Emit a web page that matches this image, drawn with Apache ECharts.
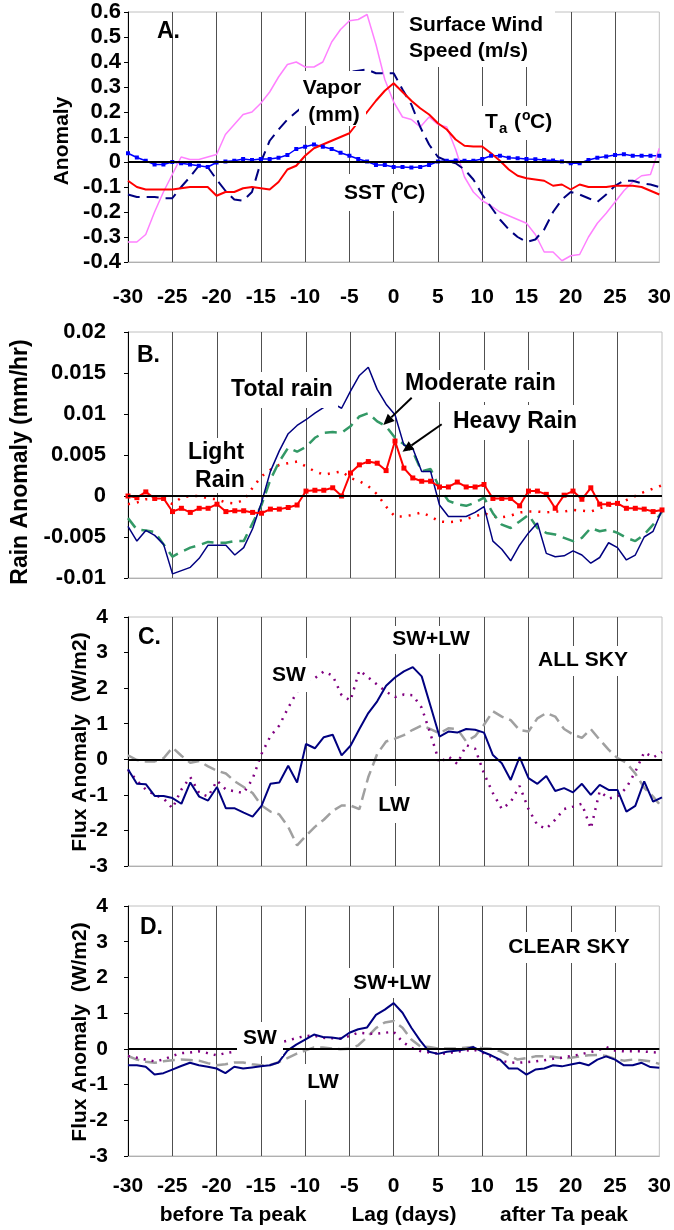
<!DOCTYPE html>
<html>
<head>
<meta charset="utf-8">
<script src="https://cdn.jsdelivr.net/npm/echarts@6/dist/echarts.min.js"></script>
<style>
  html, body { margin: 0; padding: 0; background: #fff; }
  #chart { width: 674px; height: 1230px; }
</style>
</head>
<body>
<div id="chart"></div>
<script>
// lag in days relative to the Ta peak
var lag = [-30,-29,-28,-27,-26,-25,-24,-23,-22,-21,-20,-19,-18,-17,-16,-15,-14,-13,-12,-11,
  -10,-9,-8,-7,-6,-5,-4,-3,-2,-1,0,1,2,3,4,5,6,7,8,9,10,11,12,13,14,15,16,17,18,19,20,
  21,22,23,24,25,26,27,28,29,30];

// A. surface anomalies
var windSpeed = [-0.32,-0.32,-0.29,-0.20,-0.12,-0.05,0.02,0.01,0.01,0.02,
  0.03,0.11,0.15,0.19,0.20,0.235,0.28,0.34,0.39,0.40,
  0.38,0.38,0.40,0.48,0.53,0.565,0.57,0.59,0.47,0.33,
  0.24,0.18,0.17,0.14,0.18,0.15,0.14,0.05,-0.06,-0.12,
  -0.155,-0.175,-0.20,-0.215,-0.23,-0.245,-0.29,-0.36,-0.36,-0.395,
  -0.375,-0.37,-0.30,-0.245,-0.205,-0.16,-0.115,-0.08,-0.055,-0.05,0.055];
var vapor = [-0.13,-0.14,-0.14,-0.14,-0.145,-0.145,-0.10,-0.06,-0.015,-0.02,
  -0.07,-0.115,-0.15,-0.155,-0.12,0.0,0.085,0.13,0.17,0.20,
  0.23,0.265,0.30,0.32,0.34,0.36,0.365,0.37,0.355,0.355,
  0.355,0.29,0.23,0.14,0.07,0.02,0.005,-0.005,-0.03,-0.07,
  -0.13,-0.18,-0.23,-0.27,-0.30,-0.32,-0.31,-0.27,-0.20,-0.15,
  -0.12,-0.13,-0.145,-0.16,-0.13,-0.095,-0.075,-0.075,-0.085,-0.09,-0.10];
var airTemp = [-0.075,-0.10,-0.11,-0.11,-0.11,-0.11,-0.105,-0.10,-0.10,-0.10,
  -0.135,-0.12,-0.12,-0.105,-0.10,-0.105,-0.11,-0.08,-0.03,-0.015,
  0.025,0.055,0.07,0.085,0.10,0.115,0.16,0.20,0.245,0.285,
  0.315,0.28,0.245,0.215,0.19,0.155,0.13,0.09,0.065,0.062,
  0.062,0.035,0.005,-0.03,-0.055,-0.065,-0.07,-0.075,-0.095,-0.09,
  -0.11,-0.09,-0.10,-0.10,-0.10,-0.095,-0.095,-0.095,-0.10,-0.115,-0.13];
var sst = [0.035,0.018,0.005,-0.01,-0.01,0,-0.005,-0.01,-0.015,-0.02,
  -0.002,0.002,0.005,0.012,0.008,0.012,0.012,0.017,0.028,0.052,
  0.061,0.07,0.061,0.052,0.037,0.025,0.012,0.002,-0.012,-0.012,
  -0.02,-0.02,-0.022,-0.02,-0.012,0.002,0.005,0.006,0.005,0.005,
  0.012,0.025,0.025,0.017,0.015,0.012,0.011,0.008,0.006,0.002,
  -0.005,-0.005,0.008,0.017,0.022,0.028,0.031,0.025,0.025,0.025,0.025];

// B. rain anomalies (mm/hr)
var totalRain = [-0.0037,-0.0055,-0.0042,-0.0048,-0.0059,-0.0095,-0.0091,-0.0087,-0.0076,-0.006,
  -0.006,-0.006,-0.0072,-0.0063,-0.004,-0.0008,0.003,0.0055,0.0076,0.0086,
  0.0093,0.0101,0.0108,0.0113,0.0107,0.0128,0.0147,0.0157,0.013,0.0112,
  0.0099,0.0062,0.0058,0.003,0.003,-0.0011,-0.0025,-0.0025,-0.0025,-0.002,
  -0.0013,-0.0055,-0.0065,-0.0079,-0.006,-0.0045,-0.0033,-0.007,-0.0074,-0.0073,
  -0.0067,-0.0072,-0.0082,-0.0075,-0.0057,-0.0063,-0.0078,-0.0072,-0.005,-0.0043,-0.0017];
var moderateRain = [-0.0027,-0.0041,-0.0042,-0.0044,-0.0059,-0.0074,-0.0068,-0.0063,-0.006,-0.0056,
  -0.0057,-0.0057,-0.0055,-0.0055,-0.0033,-0.0011,0.002,0.0042,0.0059,0.0054,
  0.006,0.0071,0.0077,0.0078,0.0077,0.0085,0.0097,0.0101,0.0091,0.0085,
  0.0071,0.0063,0.0054,0.003,0.0033,0.001,-0.0006,-0.001,-0.0012,-0.0008,
  -0.0002,-0.0021,-0.0035,-0.0039,-0.0031,-0.0023,-0.0039,-0.0045,-0.0047,-0.0051,
  -0.0055,-0.0051,-0.0039,-0.0043,-0.0041,-0.0045,-0.0051,-0.0055,-0.0047,-0.0035,-0.0019];
var heavyRain = [0.0,-0.0002,0.0005,-0.0003,-0.0003,-0.0019,-0.0015,-0.002,-0.0015,-0.0015,
  -0.001,-0.0019,-0.0018,-0.0018,-0.002,-0.0021,-0.0016,-0.0016,-0.0014,-0.0011,
  0.0006,0.0007,0.0007,0.001,0.0,0.0028,0.0038,0.0042,0.004,0.0031,
  0.0067,0.0034,0.0022,0.0018,0.0018,0.0011,0.0011,0.0017,0.0011,0.0011,
  0.0014,-0.0003,-0.0003,-0.0003,-0.0012,0.0006,0.0006,0.0002,-0.0015,0.0001,
  0.0006,-0.0004,0.001,-0.001,-0.001,-0.0009,-0.0015,-0.0015,-0.0016,-0.0019,-0.0017];
var lightRain = [-0.001,-0.0008,-0.0004,-0.0004,-0.0003,-0.001,-0.0002,0.0,0.0,-0.0003,
  -0.0004,-0.0008,-0.0009,-0.0005,0.001,0.0024,0.0032,0.0038,0.004,0.0042,
  0.0036,0.003,0.0026,0.0028,0.003,0.0022,0.0018,0.0012,0.0002,-0.0013,
  -0.0025,-0.0025,-0.0023,-0.002,-0.0025,-0.0031,-0.0032,-0.0031,-0.0028,-0.0025,
  -0.0021,-0.0025,-0.0026,-0.0024,-0.002,-0.0019,-0.0019,-0.002,-0.0019,-0.0019,
  -0.0017,-0.0018,-0.0019,-0.0015,-0.0012,-0.0011,-0.0005,0.0,0.0005,0.0009,0.0013];

// C. all sky flux anomalies (W/m2)
var allSkyNet = [-0.28,-0.69,-0.70,-1.03,-1.03,-1.09,-1.25,-0.65,-1.05,-1.16,
  -0.78,-1.38,-1.38,-1.5,-1.61,-1.31,-0.69,-0.65,-0.18,-0.65,
  0.43,0.31,0.62,0.69,0.11,0.38,0.85,1.30,1.63,2.07,
  2.3,2.47,2.59,2.33,1.49,0.64,0.78,0.75,0.85,0.83,
  0.75,0.12,-0.11,-0.58,0.06,-0.53,-0.69,-0.47,-0.89,-0.81,
  -0.93,-0.69,-1.0,-0.72,-0.86,-0.86,-1.47,-1.31,-0.62,-1.19,-1.07];
var allSkySW = [-0.3,-0.6,-0.85,-1.0,-1.1,-1.38,-0.85,-0.5,-0.95,-1.05,
  -0.6,-0.85,-0.9,-0.95,-0.55,0.15,0.65,0.95,1.45,1.9,
  2.2,2.28,2.47,2.35,1.8,1.65,2.5,2.3,2.1,1.9,
  1.75,1.82,1.8,1.45,0.7,-0.1,0.08,-0.13,0.4,0.3,
  -0.4,-0.95,-1.4,-1.2,-0.75,-1.4,-1.85,-1.95,-1.7,-1.4,
  -1.33,-1.25,-1.95,-0.9,-1.1,-1.05,-0.8,-0.35,0.2,0.05,0.2];
var allSkyLW = [0.11,-0.02,-0.06,-0.06,0.03,0.33,0.1,-0.1,-0.05,-0.2,
  -0.32,-0.4,-0.62,-0.78,-0.95,-1.3,-1.47,-1.55,-1.9,-2.42,
  -2.15,-1.9,-1.7,-1.45,-1.3,-1.3,-1.4,-0.5,0.15,0.5,
  0.58,0.68,0.83,0.95,0.85,0.73,0.87,0.85,0.5,0.65,
  0.97,1.35,1.2,1.1,0.82,0.78,1.15,1.3,1.2,0.85,
  0.7,0.6,0.85,0.55,0.27,0.03,-0.1,-0.4,-0.8,-1.05,-1.35];

// D. clear sky flux anomalies (W/m2)
var clearSkyNet = [-0.46,-0.46,-0.5,-0.72,-0.68,-0.58,-0.48,-0.39,-0.46,-0.5,
  -0.55,-0.68,-0.5,-0.55,-0.52,-0.49,-0.46,-0.38,-0.05,0.12,
  0.26,0.40,0.33,0.32,0.28,0.45,0.55,0.6,0.95,1.1,
  1.28,1.01,0.59,0.23,-0.08,-0.14,-0.08,-0.05,-0.02,0.05,
  -0.08,-0.18,-0.3,-0.55,-0.55,-0.72,-0.58,-0.55,-0.46,-0.49,
  -0.44,-0.39,-0.46,-0.3,-0.21,-0.3,-0.46,-0.46,-0.39,-0.51,-0.53];
var clearSkySW = [-0.2,-0.25,-0.3,-0.35,-0.3,-0.2,-0.12,-0.1,-0.07,-0.12,
  -0.18,-0.12,-0.08,-0.02,0.03,0.08,0.12,0.17,0.23,0.3,
  0.36,0.37,0.31,0.3,0.29,0.36,0.45,0.43,0.42,0.45,
  0.48,0.2,0.03,-0.06,-0.1,-0.13,-0.13,-0.08,-0.06,-0.02,
  -0.1,-0.22,-0.32,-0.38,-0.39,-0.37,-0.35,-0.32,-0.28,-0.25,
  -0.2,-0.16,-0.1,-0.05,0.05,-0.05,-0.07,-0.07,-0.07,-0.09,-0.11];
var clearSkyLW = [-0.2,-0.3,-0.36,-0.39,-0.35,-0.32,-0.3,-0.31,-0.33,-0.4,
  -0.46,-0.43,-0.38,-0.38,-0.43,-0.46,-0.46,-0.37,-0.26,-0.14,
  -0.05,0.04,0.04,0.01,-0.01,0.0,0.1,0.33,0.58,0.74,
  0.78,0.59,0.26,0.07,0.05,0.01,0.01,0.01,0.03,0.05,
  0.02,0.0,-0.06,-0.18,-0.3,-0.26,-0.21,-0.21,-0.22,-0.26,
  -0.25,-0.21,-0.18,-0.17,-0.2,-0.28,-0.33,-0.3,-0.32,-0.35,-0.42];

var FONT = '"Liberation Sans", Arial, sans-serif';

function pairs(vals) {
  return vals.map(function (v, i) { return [lag[i], v]; });
}

function xAxisFor(i, showLabel, margin) {
  return {
    type: 'value', gridIndex: i, min: -30, max: 30, interval: 5,
    axisLine: { show: true, onZero: false, lineStyle: { color: '#b0b0b0', width: 1 } },
    axisTick: { show: false },
    splitLine: { show: true, showMinLine: false, showMaxLine: false, lineStyle: { color: '#505050', width: 1 } },
    axisLabel: { show: showLabel, margin: margin, color: '#000', fontSize: 21, fontWeight: 'bold', fontFamily: FONT }
  };
}

function yAxisFor(i, min, max, interval, fontSize, margin) {
  return {
    type: 'value', gridIndex: i, min: min, max: max, interval: interval,
    axisLine: { show: true, onZero: false, lineStyle: { color: '#000', width: 1 } },
    axisTick: { show: true, length: 4, lineStyle: { color: '#000' } },
    splitLine: { show: false },
    axisLabel: { margin: margin, color: '#000', fontSize: fontSize, fontWeight: 'bold', fontFamily: FONT }
  };
}

var zeroLine = {
  silent: true, symbol: 'none', label: { show: false },
  lineStyle: { color: '#000', width: 2, type: 'solid' },
  data: [{ yAxis: 0 }]
};

function line(i, vals, color, width, dash, extra) {
  var s = {
    type: 'line', xAxisIndex: i, yAxisIndex: i, data: pairs(vals),
    symbol: 'none', showSymbol: false,
    lineStyle: { color: color, width: width, type: dash || 'solid' },
    itemStyle: { color: color }
  };
  for (var k in extra) s[k] = extra[k];
  return s;
}

// annotations
var gfx = [];
function box(x, y, w, h) {
  gfx.push({ type: 'rect', shape: { x: x, y: y, width: w, height: h }, style: { fill: '#fff' }, z: 50 });
}
function txt(s, x, y, size, align, rot) {
  gfx.push({
    type: 'text', x: x, y: y, rotation: rot || 0, z: 51,
    style: {
      text: s, font: 'bold ' + size + 'px ' + FONT, fill: '#000',
      textAlign: align || 'center', textVerticalAlign: 'middle',
      align: align || 'center', verticalAlign: 'middle'
    }
  });
}
function arrow(x1, y1, x2, y2) {
  var dx = x2 - x1, dy = y2 - y1, len = Math.sqrt(dx * dx + dy * dy);
  var ux = dx / len, uy = dy / len, hl = 11, hw = 5;
  var bx = x2 - ux * hl, by = y2 - uy * hl;
  gfx.push({ type: 'line', shape: { x1: x1, y1: y1, x2: bx, y2: by }, style: { stroke: '#000', lineWidth: 2 }, z: 52 });
  gfx.push({ type: 'polygon', shape: { points: [[x2, y2], [bx - uy * hw, by + ux * hw], [bx + uy * hw, by - ux * hw]] },
    style: { fill: '#000' }, z: 52 });
}

// axis titles
txt('Anomaly', 62, 141, 21, 'center', Math.PI / 2);
txt('Rain Anomaly (mm/hr)', 21, 462, 23, 'center', Math.PI / 2);
txt('Flux Anomaly  (W/m2)', 80, 742, 21, 'center', Math.PI / 2);
txt('Flux Anomaly  (W/m2)', 80, 1032, 21, 'center', Math.PI / 2);

// panel A
txt('A.', 157, 32, 23, 'left');
box(404, 8, 151, 59);
txt('Surface Wind', 409, 25, 21, 'left');
txt('Speed (m/s)', 409, 51, 21, 'left');
box(299, 71, 67, 55);
txt('Vapor', 332, 88, 21);
txt('(mm)', 334, 115, 21);
box(482, 106, 75, 34);
txt('T', 485, 122, 21, 'left');
txt('a', 499, 129, 15, 'left');
txt('(', 514, 122, 21, 'left');
txt('o', 522, 116, 14, 'left');
txt('C)', 530, 122, 21, 'left');
box(340, 174, 96, 37);
txt('SST (', 344, 193, 21, 'left');
txt('o', 395, 186, 14, 'left');
txt('C)', 403, 193, 21, 'left');

// panel B
txt('B.', 137, 356, 23, 'left');
box(228, 372, 110, 36);
txt('Total rain', 282, 390, 23);
box(186, 438, 60, 55);
txt('Light', 216, 453, 23);
txt('Rain', 220, 481, 23);
box(402, 370, 158, 32);
txt('Moderate rain', 405, 384, 23, 'left');
box(450, 405, 126, 35);
txt('Heavy Rain', 453, 422, 23, 'left');
arrow(411.7, 397.7, 383.3, 425);
arrow(441.7, 424.3, 402.5, 451.7);

// panel C
txt('C.', 138, 638, 23, 'left');
box(268, 658, 42, 34);
txt('SW', 289, 675, 21);
box(388, 626, 86, 28);
txt('SW+LW', 431, 639, 21);
box(535, 646, 96, 30);
txt('ALL SKY', 583, 660, 21);
box(373, 786, 41, 37);
txt('LW', 394, 805, 21);

// panel D
txt('D.', 140, 928, 23, 'left');
box(505, 932, 129, 31);
txt('CLEAR SKY', 569, 947, 21);
box(349, 968, 86, 30);
txt('SW+LW', 392, 983, 21);
box(237, 1022, 46, 34);
txt('SW', 260, 1038, 21);
box(303, 1064, 41, 36);
txt('LW', 323, 1082, 21);

// bottom captions
txt('before Ta peak', 233, 1215, 21);
txt('Lag (days)', 404, 1215, 21);
txt('after Ta peak', 564, 1215, 21);

var gridBase = { left: 128, width: 534, show: true, borderColor: '#c0c0c0', borderWidth: 1, backgroundColor: 'transparent' };
function gridAt(top, height) {
  var g = { top: top, height: height };
  for (var k in gridBase) g[k] = gridBase[k];
  return g;
}

var option = {
  animation: false,
  backgroundColor: '#fff',
  grid: [gridAt(12, 250), gridAt(332, 246), gridAt(617, 249), gridAt(906, 250)],
  xAxis: [xAxisFor(0, true, 25), xAxisFor(1, false, 0), xAxisFor(2, false, 0), xAxisFor(3, true, 20)],
  yAxis: [
    yAxisFor(0, -0.4, 0.6, 0.1, 22, 7),
    yAxisFor(1, -0.01, 0.02, 0.005, 22, 22),
    yAxisFor(2, -3, 4, 1, 21, 20),
    yAxisFor(3, -3, 4, 1, 21, 20)
  ],
  series: [
    line(0, sst, '#0000ff', 1.5, 'solid', { symbol: 'rect', symbolSize: 4, showSymbol: true, markLine: zeroLine }),
    line(0, windSpeed, '#ff80ff', 1.5),
    line(0, vapor, '#000080', 2, [12, 7]),
    line(0, airTemp, '#ff0000', 2),

    line(1, lightRain, '#ff0000', 2.5, [2, 7], { markLine: zeroLine }),
    line(1, moderateRain, '#339966', 2.5, [12, 7]),
    line(1, totalRain, '#000080', 1.5),
    line(1, heavyRain, '#ff0000', 2, 'solid', { symbol: 'rect', symbolSize: 5, showSymbol: true }),

    line(2, allSkyLW, '#a0a0a0', 2.5, [12, 6], { markLine: zeroLine }),
    line(2, allSkySW, '#800080', 2.5, [2, 6]),
    line(2, allSkyNet, '#000080', 2),

    line(3, clearSkyLW, '#a0a0a0', 2.5, [12, 6], { markLine: zeroLine }),
    line(3, clearSkySW, '#800080', 2.5, [2, 6]),
    line(3, clearSkyNet, '#000080', 2)
  ],
  graphic: { elements: gfx }
};

var chart = echarts.init(document.getElementById('chart'), null, { renderer: 'canvas' });
chart.setOption(option);
</script>
</body>
</html>
